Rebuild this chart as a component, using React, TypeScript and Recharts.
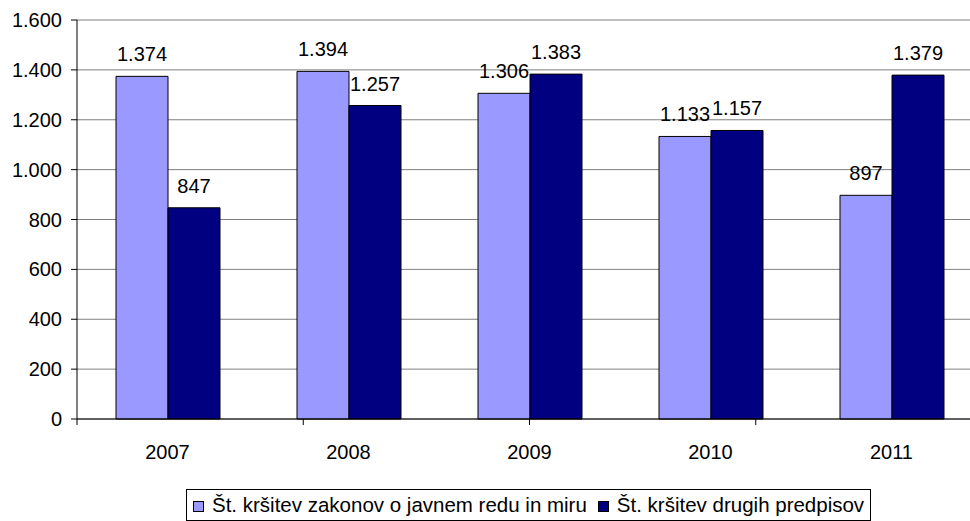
import React from 'react';
import {
  BarChart,
  Bar,
  XAxis,
  YAxis,
  CartesianGrid,
  Legend,
  LabelList,
} from 'recharts';

const years = ['2007', '2008', '2009', '2010', '2011'];
const javniRed = [1374, 1394, 1306, 1133, 897];
const drugiPredpisi = [847, 1257, 1383, 1157, 1379];
const yTicks = [0, 200, 400, 600, 800, 1000, 1200, 1400, 1600];
const boundaryTicks = [0, 1, 2, 3, 4, 5];
const seriesOrder = ['javniRed', 'drugi'];

const data = years.map((year, i) => ({
  year,
  javniRed: javniRed[i],
  drugi: drugiPredpisi[i],
}));

const FONT = '"Liberation Sans", Arial, sans-serif';

// 1374 -> "1.374"
const fmt = (v: any) => Number(v).toLocaleString('de-DE');

const LegendBox = (props: any) => {
  const items = [...(props.payload || [])].sort(
    (a: any, b: any) => seriesOrder.indexOf(a.dataKey) - seriesOrder.indexOf(b.dataKey)
  );
  return (
    <div style={{ display: 'flex', paddingLeft: 186 }}>
      <div
        style={{
          display: 'flex',
          alignItems: 'center',
          border: '1px solid #000',
          padding: '4px 6px 4px 6px',
          height: 22,
          fontFamily: FONT,
          fontSize: 20.5,
          color: '#000',
          background: '#fff',
          whiteSpace: 'nowrap',
        }}
      >
        {items.map((p: any, i: number) => (
          <div key={i} style={{ display: 'flex', alignItems: 'center', marginRight: i === 0 ? 11 : 0 }}>
            <span
              style={{
                display: 'inline-block',
                width: 9,
                height: 9,
                background: p.color,
                border: '1px solid #000',
                marginRight: 8,
                marginTop: 3,
              }}
            />
            <span>{p.value}</span>
          </div>
        ))}
      </div>
    </div>
  );
};

export default function App() {
  return (
    <div style={{ position: 'absolute', left: 0, top: 0, width: 970, height: 521, overflow: 'hidden', background: '#fff' }}>
      <BarChart
        width={982}
        height={521}
        data={data}
        margin={{ top: 20, right: 0, left: 0, bottom: 0 }}
        barSize={52}
        barGap={0}
      >
        <CartesianGrid xAxisId="b" vertical={false} stroke="#808080" />
        <XAxis
          xAxisId="a"
          type="number"
          domain={[0, 5]}
          ticks={boundaryTicks}
          interval={0}
          height={6}
          axisLine={{ stroke: '#000' }}
          tickLine={{ stroke: '#000' }}
          tickSize={6}
          tick={() => <g />}
        />
        <XAxis
          xAxisId="b"
          dataKey="year"
          tickLine={false}
          axisLine={false}
          tick={{ fill: '#000', fontFamily: FONT, fontSize: 20 }}
          tickMargin={14}
          height={64}
        />
        <YAxis
          width={77}
          domain={[0, 1600]}
          ticks={yTicks}
          interval={0}
          tickFormatter={fmt}
          axisLine={{ stroke: '#000' }}
          tickLine={{ stroke: '#000' }}
          tickSize={6}
          tickMargin={9}
          tick={{ fill: '#000', fontFamily: FONT, fontSize: 20 }}
        />
        <Legend verticalAlign="bottom" height={32} content={<LegendBox />} wrapperStyle={{ left: 0, width: 982 }} />
        <Bar
          xAxisId="b"
          dataKey="javniRed"
          name="Št. kršitev zakonov o javnem redu in miru"
          fill="#9999FF"
          stroke="#000"
          strokeWidth={1}
          isAnimationActive={false}
        >
          <LabelList
            dataKey="javniRed"
            position="top"
            offset={15}
            formatter={fmt}
            style={{ fill: '#000', fontFamily: FONT, fontSize: 20 }}
          />
        </Bar>
        <Bar
          xAxisId="b"
          dataKey="drugi"
          name="Št. kršitev drugih predpisov"
          fill="#000080"
          stroke="#000"
          strokeWidth={1}
          isAnimationActive={false}
        >
          <LabelList
            dataKey="drugi"
            position="top"
            offset={15}
            formatter={fmt}
            style={{ fill: '#000', fontFamily: FONT, fontSize: 20 }}
          />
        </Bar>
      </BarChart>
    </div>
  );
}
